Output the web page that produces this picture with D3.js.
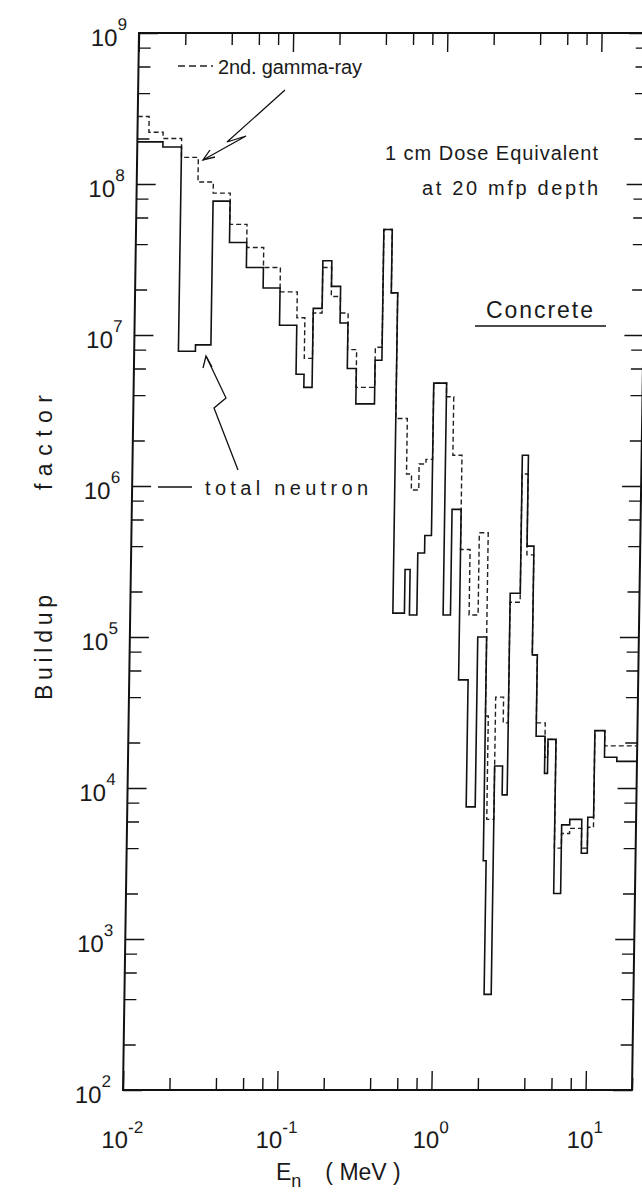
<!DOCTYPE html>
<html><head><meta charset="utf-8">
<script src="https://cdn.jsdelivr.net/npm/d3@7"></script>
<style>
body{margin:0;background:#fff}
svg{display:block}
text{font-family:"Liberation Sans",Arial,sans-serif;fill:#1a1a1a}
</style>
</head><body>
<svg id="c" width="642" height="1192"></svg>
<script>
// energy group boundaries (MeV)
const edges = [0.0100,0.01186,0.01466,0.01936,0.02495,0.0314,0.0405,0.0524,0.0676,0.0871,0.1127,
  0.127,0.1436,0.164,0.1875,0.215,0.242,0.277,0.316,0.366,0.405,0.459,0.505,0.600,0.647,0.723,0.800,
  0.883,1.07,1.194,1.368,1.577,1.804,2.06,2.15,2.39,2.69,2.90,3.37,3.69,4.09,4.41,5.04,5.27,5.94,
  6.59,7.43,8.89,9.72,10.6,12.3,14.8,20];
// total neutron buildup factor per group (solid)
const neutron = [1.9e8,1.9e8,1.76e8,7.8e6,8.6e6,7.7e7,4.1e7,2.8e7,2.05e7,1.16e7,
  5.5e6,4.5e6,1.5e7,3.1e7,2.1e7,1.2e7,6e6,3.5e6,3.5e6,6.8e6,5e7,1.9e7,1.44e5,2.8e5,1.4e5,3.6e5,
  4.7e5,4.8e6,1.4e5,7e5,5.2e4,7.5e3,1e5,3.3e3,4.3e2,1.4e4,9e3,1.95e5,1.6e6,4e5,7.6e4,2.2e4,
  1.25e4,2.1e4,2e3,5.7e3,6.2e3,3.7e3,6.4e3,2.4e4,1.6e4,1.5e4];
// secondary gamma-ray buildup factor per group (dashed)
const gamma = [2.8e8,2.2e8,2.0e8,1.5e8,1.03e8,8.7e7,5.4e7,3.8e7,2.8e7,1.93e7,
  1.3e7,7e6,1.4e7,2.8e7,1.8e7,1.4e7,8e6,4.5e6,4.5e6,8.3e6,5e7,1.9e7,2.8e6,1.2e6,9.4e5,1.4e6,
  1.5e6,4.8e6,3.9e6,1.6e6,3.8e5,1.4e5,4.9e5,3e4,6.2e3,4e4,2.7e4,1.7e5,1.2e6,3.5e5,7.6e4,2.7e4,
  1.6e4,2.1e4,4e3,5e3,5.4e3,4e3,5.5e3,2.4e4,1.9e4,1.9e4];
const xMajor = [0.01,0.1,1,10];
const yMajor = [1e2,1e3,1e4,1e5,1e6,1e7,1e8,1e9];
const xLabels = ["-2","-1","0","1"];
const yLabels = ["2","3","4","5","6","7","8","9"];

const svg = d3.select("#c");
const L=123, R=632, T=33, B=1090;
const x = d3.scaleLog().domain([0.01,20]).range([L,R]);
const y = d3.scaleLog().domain([1e2,1e9]).range([B,T]);

// the scanned figure is slightly sheared; reproduce it
const k = 16/1057;
const g = svg.append("g")
  .attr("transform",`translate(${k*B},0) skewX(${-Math.atan(k)*180/Math.PI})`);

function minorsOf(majors, last){
  const out=[];
  majors.forEach(m=>[2,4,6,8].forEach(f=>{const v=m*f; if(v<last*1.0001) out.push(v);}));
  return out;
}
const xMinor = minorsOf(xMajor,20);
const yMinor = minorsOf(yMajor.slice(0,-1),1e9);
const xTicks = xMajor.concat(xMinor), yTicks = yMajor.concat(yMinor);
const isMajor = v => Math.abs(Math.log10(v)-Math.round(Math.log10(v)))<1e-6;
const MAJ=19, MIN=12;

function styleAxis(sel, horiz, sign){
  sel.select(".domain").remove();
  sel.selectAll("text").remove();
  sel.selectAll(".tick line").attr("stroke","#111").attr("stroke-width",1.4)
    .each(function(d){
      const len = (isMajor(d)?MAJ:MIN)*sign;
      if(horiz) d3.select(this).attr("y2",len); else d3.select(this).attr("x2",len);
    });
}
g.append("g").attr("transform",`translate(0,${B})`)
  .call(d3.axisBottom(x).tickValues(xTicks).tickSize(-MIN)).call(s=>styleAxis(s,true,-1));
g.append("g").attr("transform",`translate(0,${T})`)
  .call(d3.axisTop(x).tickValues(xTicks).tickSize(-MIN)).call(s=>styleAxis(s,true,1));
g.append("g").attr("transform",`translate(${L},0)`)
  .call(d3.axisLeft(y).tickValues(yTicks).tickSize(-MIN)).call(s=>styleAxis(s,false,1));
g.append("g").attr("transform",`translate(${R},0)`)
  .call(d3.axisRight(y).tickValues(yTicks).tickSize(-MIN)).call(s=>styleAxis(s,false,-1));

g.append("rect").attr("x",L).attr("y",T).attr("width",R-L).attr("height",B-T)
  .attr("fill","none").attr("stroke","#111").attr("stroke-width",2);

// step lines
function stepPath(vals){
  const pts=[];
  vals.forEach((v,i)=>{pts.push([edges[i],v]);pts.push([edges[i+1],v]);});
  return d3.line().x(d=>x(d[0])).y(d=>y(d[1]))(pts);
}
g.append("path").attr("d",stepPath(gamma)).attr("fill","none")
  .attr("stroke","#222").attr("stroke-width",1.4).attr("stroke-dasharray","5,3");
g.append("path").attr("d",stepPath(neutron)).attr("fill","none")
  .attr("stroke","#111").attr("stroke-width",1.6);

// tick labels
xMajor.forEach((v,i)=>{
  const t=g.append("text").attr("x",x(v)).attr("y",1148).attr("text-anchor","middle")
    .style("font-size","24px");
  t.append("tspan").text("10");
  t.append("tspan").attr("dy",-15).style("font-size","17px").text(xLabels[i]);
});
yMajor.forEach((v,i)=>{
  const t=g.append("text").attr("x",L-12).attr("y",y(v)+13).attr("text-anchor","end")
    .style("font-size","24px");
  t.append("tspan").text("10");
  t.append("tspan").attr("dy",-16).style("font-size","17px").text(yLabels[i]);
});

// axis titles
const xt = svg.append("text").attr("x",276).attr("y",1180).style("font-size","23px");
xt.append("tspan").text("E");
xt.append("tspan").attr("dy",7).style("font-size","18px").text("n");
xt.append("tspan").attr("dy",-7).attr("dx",24).text("( MeV )");
svg.append("text").attr("transform","translate(52,700) rotate(-90)")
  .style("font-size","23px").attr("textLength",105).attr("lengthAdjust","spacing").text("Buildup");
svg.append("text").attr("transform","translate(52,490) rotate(-90)")
  .style("font-size","23px").attr("textLength",95).attr("lengthAdjust","spacing").text("factor");

// annotations
svg.append("line").attr("x1",178).attr("x2",213).attr("y1",66).attr("y2",66)
  .attr("stroke","#222").attr("stroke-width",1.5).attr("stroke-dasharray","7,4");
svg.append("text").attr("x",218).attr("y",74).style("font-size","20px")
  .attr("textLength",144).attr("lengthAdjust","spacing").text("2nd. gamma-ray");
svg.append("text").attr("x",385).attr("y",160).style("font-size","20px")
  .attr("textLength",213).attr("lengthAdjust","spacing").text("1 cm  Dose Equivalent");
svg.append("text").attr("x",422).attr("y",195).style("font-size","20px")
  .attr("textLength",176).attr("lengthAdjust","spacing").text("at 20 mfp depth");
svg.append("text").attr("x",486).attr("y",318).style("font-size","23px")
  .attr("textLength",107).attr("lengthAdjust","spacing").text("Concrete");
svg.append("line").attr("x1",475).attr("x2",606).attr("y1",326).attr("y2",326)
  .attr("stroke","#111").attr("stroke-width",1.6);
svg.append("line").attr("x1",158).attr("x2",192).attr("y1",487).attr("y2",487)
  .attr("stroke","#111").attr("stroke-width",1.6);
svg.append("text").attr("x",205).attr("y",495).style("font-size","20px")
  .attr("textLength",163).attr("lengthAdjust","spacing").text("total neutron");

// zigzag arrows
const ln = d3.line();
svg.append("path").attr("d",ln([[285,90],[227,142],[246,136],[203,160]]))
  .attr("fill","none").attr("stroke","#111").attr("stroke-width",1.3);
svg.append("path").attr("d",ln([[210,150],[203,160],[215,157]]))
  .attr("fill","none").attr("stroke","#111").attr("stroke-width",1.3);
svg.append("path").attr("d",ln([[238,470],[214,408],[226,398],[206,356]]))
  .attr("fill","none").attr("stroke","#111").attr("stroke-width",1.3);
svg.append("path").attr("d",ln([[203,368],[206,356],[212,367]]))
  .attr("fill","none").attr("stroke","#111").attr("stroke-width",1.3);
</script>
</body></html>
